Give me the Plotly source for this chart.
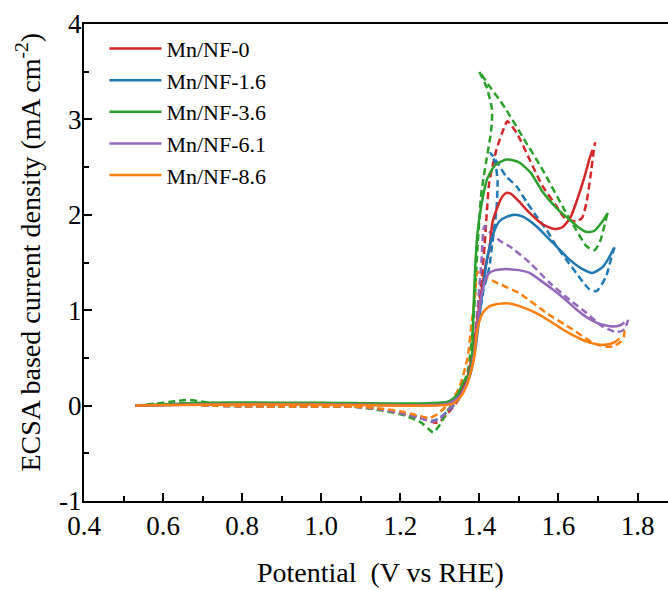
import plotly.graph_objects as go

names = ["Mn/NF-0", "Mn/NF-1.6", "Mn/NF-3.6", "Mn/NF-6.1", "Mn/NF-8.6"]
colors = ["#d62728", "#1f77b4", "#2ca02c", "#9467bd", "#ff7f0e"]

# Solid curves
red_sx = [0.53, 0.60, 0.70, 0.80, 1.00, 1.20, 1.32, 1.35, 1.37, 1.385, 1.40, 1.415, 1.425, 1.433, 1.443, 1.455, 1.468, 1.48, 1.50, 1.527, 1.56, 1.59, 1.61, 1.63, 1.645, 1.666, 1.678, 1.686]
red_sy = [0.0, 0.01, 0.015, 0.02, 0.015, 0.015, 0.03, 0.12, 0.3, 0.6, 1.05, 1.45, 1.64, 1.92, 2.05, 2.17, 2.23, 2.22, 2.14, 2.02, 1.90, 1.85, 1.87, 1.97, 2.13, 2.40, 2.58, 2.68]

blue_sx = [0.53, 0.70, 1.00, 1.32, 1.35, 1.375, 1.39, 1.405, 1.42, 1.435, 1.45, 1.47, 1.49, 1.51, 1.544, 1.585, 1.628, 1.661, 1.686, 1.711, 1.725, 1.74]
blue_sy = [0.0, 0.015, 0.015, 0.02, 0.1, 0.3, 0.6, 1.1, 1.55, 1.8, 1.93, 1.98, 2.0, 1.98, 1.88, 1.71, 1.53, 1.43, 1.39, 1.45, 1.53, 1.65]

green_sx = [0.53, 0.70, 1.00, 1.32, 1.345, 1.36, 1.372, 1.38, 1.385, 1.39, 1.395, 1.405, 1.42, 1.44, 1.468, 1.50, 1.53, 1.56, 1.60, 1.628, 1.65, 1.671, 1.69, 1.711, 1.725]
green_sy = [0.0, 0.03, 0.03, 0.04, 0.12, 0.25, 0.32, 0.45, 1.0, 1.5, 1.8, 2.1, 2.38, 2.52, 2.58, 2.55, 2.44, 2.24, 2.05, 1.95, 1.87, 1.82, 1.83, 1.93, 2.02]

purple_sx = [0.53, 0.70, 1.00, 1.32, 1.35, 1.37, 1.385, 1.395, 1.405, 1.415, 1.425, 1.44, 1.46, 1.476, 1.50, 1.527, 1.555, 1.585, 1.615, 1.645, 1.67, 1.696, 1.72, 1.737, 1.755, 1.767]
purple_sy = [0.0, 0.015, 0.015, 0.02, 0.1, 0.25, 0.5, 0.85, 1.15, 1.32, 1.39, 1.42, 1.43, 1.43, 1.42, 1.39, 1.31, 1.22, 1.12, 1.01, 0.93, 0.87, 0.84, 0.83, 0.84, 0.87]

orange_sx = [0.53, 0.70, 1.00, 1.33, 1.35, 1.367, 1.38, 1.387, 1.395, 1.408, 1.425, 1.44, 1.458, 1.476, 1.51, 1.544, 1.577, 1.61, 1.64, 1.671, 1.70, 1.722, 1.74, 1.754]
orange_sy = [0.0, 0.01, 0.01, 0.015, 0.08, 0.2, 0.38, 0.51, 0.8, 0.97, 1.04, 1.06, 1.07, 1.07, 1.03, 0.97, 0.89, 0.80, 0.73, 0.67, 0.64, 0.64, 0.66, 0.70]

# Dashed curves
red_dx = [0.53, 0.60, 0.65, 0.72, 0.90, 1.08, 1.15, 1.20, 1.25, 1.29, 1.30, 1.32, 1.345, 1.37, 1.39, 1.405, 1.413, 1.418, 1.425, 1.443, 1.463, 1.471, 1.494, 1.527, 1.56, 1.595, 1.615, 1.645, 1.66, 1.671, 1.683, 1.69, 1.693]
red_dy = [0.0, 0.01, 0.02, 0.0, -0.01, -0.01, -0.04, -0.08, -0.13, -0.18, -0.17, -0.08, 0.05, 0.3, 0.75, 1.3, 1.67, 1.98, 2.34, 2.68, 2.92, 2.98, 2.86, 2.58, 2.30, 2.09, 1.97, 1.93, 1.97, 2.13, 2.47, 2.70, 2.76]

blue_dx = [0.53, 0.60, 0.65, 0.72, 0.90, 1.08, 1.15, 1.20, 1.25, 1.28, 1.295, 1.32, 1.345, 1.37, 1.39, 1.41, 1.425, 1.433, 1.443, 1.446, 1.44, 1.428, 1.445, 1.468, 1.494, 1.52, 1.545, 1.57, 1.595, 1.62, 1.645, 1.661, 1.678, 1.696, 1.72, 1.737, 1.742]
blue_dy = [0.0, 0.01, 0.02, 0.0, -0.01, -0.01, -0.04, -0.07, -0.12, -0.16, -0.14, -0.06, 0.05, 0.3, 0.7, 1.2, 1.45, 1.71, 2.05, 2.34, 2.55, 2.65, 2.55, 2.40, 2.30, 2.13, 1.98, 1.84, 1.67, 1.53, 1.39, 1.30, 1.22, 1.20, 1.35, 1.60, 1.66]

green_dx = [0.53, 0.58, 0.62, 0.66, 0.70, 0.75, 0.90, 1.08, 1.15, 1.20, 1.25, 1.27, 1.283, 1.30, 1.32, 1.345, 1.37, 1.385, 1.395, 1.405, 1.418, 1.43, 1.432, 1.418, 1.40, 1.425, 1.45, 1.468, 1.509, 1.56, 1.61, 1.645, 1.671, 1.691, 1.705, 1.72, 1.726]
green_dy = [0.0, 0.02, 0.04, 0.06, 0.04, 0.01, -0.01, -0.01, -0.05, -0.09, -0.17, -0.24, -0.28, -0.2, -0.05, 0.1, 0.35, 0.9, 1.64, 2.23, 2.58, 2.89, 3.10, 3.34, 3.50, 3.35, 3.21, 3.10, 2.82, 2.47, 2.09, 1.84, 1.67, 1.63, 1.72, 1.95, 2.05]

purple_dx = [0.53, 0.60, 0.65, 0.72, 0.90, 1.08, 1.15, 1.20, 1.25, 1.28, 1.30, 1.32, 1.345, 1.37, 1.385, 1.395, 1.405, 1.413, 1.43, 1.455, 1.476, 1.527, 1.577, 1.628, 1.671, 1.711, 1.747, 1.767, 1.776]
purple_dy = [0.0, 0.01, 0.02, 0.0, -0.01, -0.01, -0.04, -0.08, -0.13, -0.17, -0.14, -0.05, 0.05, 0.3, 0.6, 1.0, 1.5, 1.88, 1.80, 1.72, 1.67, 1.50, 1.29, 1.11, 0.97, 0.83, 0.77, 0.80, 0.90]

orange_dx = [0.53, 0.60, 0.65, 0.72, 0.90, 1.08, 1.15, 1.20, 1.24, 1.273, 1.29, 1.31, 1.33, 1.35, 1.37, 1.38, 1.39, 1.395, 1.41, 1.443, 1.50, 1.57, 1.635, 1.686, 1.715, 1.737, 1.755, 1.765, 1.768]
orange_dy = [0.0, 0.01, 0.015, 0.0, -0.01, -0.01, -0.03, -0.06, -0.10, -0.13, -0.10, -0.03, 0.05, 0.2, 0.5, 0.85, 1.2, 1.40, 1.36, 1.29, 1.18, 0.97, 0.80, 0.66, 0.62, 0.62, 0.66, 0.72, 0.83]

x_tickvals = [0.4, 0.6, 0.8, 1.0, 1.2, 1.4, 1.6, 1.8]
x_ticktext = ["0.4", "0.6", "0.8", "1.0", "1.2", "1.4", "1.6", "1.8"]
y_tickvals = [-1, 0, 1, 2, 3, 4]
y_ticktext = ["-1", "0", "1", "2", "3", "4"]

solid = [(red_sx, red_sy), (blue_sx, blue_sy), (green_sx, green_sy), (purple_sx, purple_sy), (orange_sx, orange_sy)]
dashed = [(red_dx, red_dy), (blue_dx, blue_dy), (green_dx, green_dy), (purple_dx, purple_dy), (orange_dx, orange_dy)]

FONT = "Liberation Serif, Times New Roman, serif"

fig = go.Figure()
for i, name in enumerate(names):
    fig.add_trace(go.Scatter(x=dashed[i][0], y=dashed[i][1], mode="lines", showlegend=False,
                             line=dict(color=colors[i], width=2.5, dash="7px,4px", shape="spline", smoothing=0.6)))
for i, name in enumerate(names):
    fig.add_trace(go.Scatter(x=solid[i][0], y=solid[i][1], mode="lines", name=name,
                             line=dict(color=colors[i], width=2.5, shape="spline", smoothing=0.6)))

fig.update_layout(
    width=668, height=590,
    margin=dict(l=84, r=0, t=24, b=89, autoexpand=False),
    plot_bgcolor="white", paper_bgcolor="white",
    font=dict(family=FONT, size=27, color="black"),
    showlegend=True,
    legend=dict(x=0.035, y=0.992, xanchor="left", yanchor="top", bgcolor="rgba(0,0,0,0)",
                font=dict(family=FONT, size=22), tracegroupgap=0, itemwidth=52),
    xaxis=dict(range=[0.4, 1.877], showgrid=False, zeroline=False, showline=True, linecolor="black",
               linewidth=2, mirror=True, ticks="inside", ticklen=8, tickwidth=2, tickcolor="black",
               tickvals=x_tickvals, ticktext=x_ticktext,
               minor=dict(ticks="inside", ticklen=5, tickwidth=2, tickcolor="black", dtick=0.1, tick0=0.4),
               tickfont=dict(size=27), automargin=False),
    yaxis=dict(range=[-1, 4], showgrid=False, zeroline=False, showline=True, linecolor="black",
               linewidth=2, mirror=False, ticks="inside", ticklen=8, tickwidth=2, tickcolor="black",
               tickvals=y_tickvals, ticktext=y_ticktext,
               minor=dict(ticks="inside", ticklen=5, tickwidth=2, tickcolor="black", dtick=0.5, tick0=-1),
               tickfont=dict(size=27), automargin=False, ticklabelstandoff=-5),
    annotations=[
        dict(text="Potential\u00a0 (V vs RHE)", xref="paper", yref="paper", x=0.507, y=-0.149,
             xanchor="center", yanchor="middle", showarrow=False, font=dict(family=FONT, size=28)),
        dict(text="ECSA based current density (mA cm<sup>-2</sup>)", xref="paper", yref="paper",
             x=-0.095, y=0.522, xanchor="center", yanchor="middle", textangle=-90, showarrow=False,
             font=dict(family=FONT, size=28)),
    ],
)

fig.write_html("out.html", config={"displayModeBar": False},
               post_script="document.body.style.margin='0px';")
